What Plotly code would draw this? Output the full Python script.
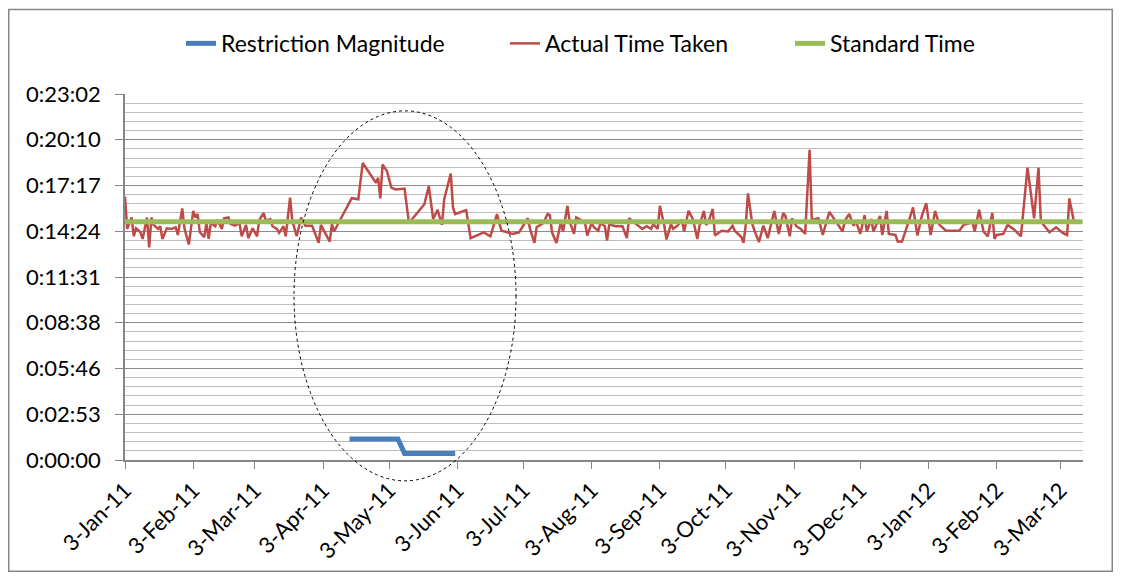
import plotly.graph_objects as go

# ---------------- data ----------------
restriction_dates = ["2011-04-15", "2011-05-07", "2011-05-10", "2011-06-02"]
restriction_secs = [79, 79, 25, 25]

standard_dates = ["2011-01-03", "2012-03-13"]
standard_secs = [900, 900]

actual_dates = [
    "2011-01-03", "2011-01-04", "2011-01-06", "2011-01-07", "2011-01-08", "2011-01-10", "2011-01-11", "2011-01-13",
    "2011-01-14", "2011-01-15", "2011-01-16", "2011-01-18", "2011-01-19", "2011-01-20", "2011-01-22", "2011-01-24",
    "2011-01-26", "2011-01-27", "2011-01-29", "2011-01-30",
    "2011-02-01", "2011-02-03", "2011-02-04", "2011-02-05", "2011-02-06", "2011-02-08", "2011-02-09", "2011-02-10",
    "2011-02-11", "2011-02-13", "2011-02-14", "2011-02-16", "2011-02-17", "2011-02-19", "2011-02-20", "2011-02-22",
    "2011-02-24", "2011-02-25", "2011-02-27", "2011-02-28",
    "2011-03-02", "2011-03-04", "2011-03-05", "2011-03-07", "2011-03-08", "2011-03-10", "2011-03-11", "2011-03-13",
    "2011-03-14", "2011-03-16", "2011-03-17", "2011-03-19", "2011-03-20", "2011-03-22", "2011-03-24", "2011-03-26",
    "2011-03-29",
    "2011-04-01", "2011-04-02", "2011-04-06", "2011-04-07", "2011-04-08", "2011-04-10", "2011-04-16", "2011-04-19",
    "2011-04-21", "2011-04-27", "2011-04-28", "2011-04-29", "2011-04-30",
    "2011-05-02", "2011-05-04", "2011-05-06", "2011-05-10", "2011-05-12", "2011-05-19", "2011-05-21", "2011-05-23",
    "2011-05-25", "2011-05-27", "2011-05-28", "2011-05-31",
    "2011-06-01", "2011-06-02", "2011-06-07", "2011-06-09", "2011-06-15", "2011-06-18", "2011-06-21", "2011-06-23",
    "2011-06-25", "2011-06-28",
    "2011-07-01", "2011-07-03", "2011-07-05", "2011-07-06", "2011-07-08", "2011-07-09", "2011-07-11", "2011-07-12",
    "2011-07-14", "2011-07-15", "2011-07-16", "2011-07-18", "2011-07-20", "2011-07-21", "2011-07-23", "2011-07-24",
    "2011-07-26", "2011-07-27", "2011-07-29", "2011-07-31",
    "2011-08-01", "2011-08-03", "2011-08-04", "2011-08-06", "2011-08-07", "2011-08-09", "2011-08-10", "2011-08-11",
    "2011-08-13", "2011-08-14", "2011-08-17", "2011-08-19", "2011-08-20", "2011-08-22", "2011-08-24", "2011-08-26",
    "2011-08-28", "2011-08-30", "2011-08-31",
    "2011-09-02", "2011-09-03", "2011-09-05", "2011-09-06", "2011-09-08", "2011-09-09", "2011-09-11", "2011-09-13",
    "2011-09-14", "2011-09-16", "2011-09-18", "2011-09-20", "2011-09-21", "2011-09-23", "2011-09-24", "2011-09-25",
    "2011-09-27", "2011-09-28",
    "2011-10-01", "2011-10-04", "2011-10-06", "2011-10-07", "2011-10-10", "2011-10-11", "2011-10-12", "2011-10-13",
    "2011-10-15", "2011-10-16", "2011-10-18", "2011-10-20", "2011-10-22", "2011-10-23", "2011-10-25", "2011-10-27",
    "2011-10-29", "2011-10-30",
    "2011-11-01", "2011-11-02", "2011-11-04", "2011-11-06", "2011-11-08", "2011-11-10", "2011-11-11", "2011-11-14",
    "2011-11-16", "2011-11-19", "2011-11-22", "2011-11-25", "2011-11-26", "2011-11-28", "2011-11-30",
    "2011-12-01", "2011-12-03", "2011-12-05", "2011-12-06", "2011-12-08", "2011-12-09", "2011-12-12", "2011-12-13",
    "2011-12-15", "2011-12-16", "2011-12-19", "2011-12-20", "2011-12-22", "2011-12-25", "2011-12-27", "2011-12-29",
    "2011-12-31",
    "2012-01-02", "2012-01-04", "2012-01-06", "2012-01-08", "2012-01-11", "2012-01-14", "2012-01-17", "2012-01-19",
    "2012-01-23", "2012-01-24", "2012-01-26", "2012-01-28", "2012-01-30",
    "2012-02-01", "2012-02-02", "2012-02-03", "2012-02-06", "2012-02-08", "2012-02-11", "2012-02-14", "2012-02-17",
    "2012-02-20", "2012-02-22", "2012-02-23", "2012-02-24", "2012-02-27",
    "2012-03-01", "2012-03-04", "2012-03-06", "2012-03-07", "2012-03-09",
]

actual_secs = [
    995, 873, 916, 845, 875, 860, 835, 916, 803, 916, 888, 873, 883, 835, 875, 873, 879, 850, 950, 875,
    814, 941, 916, 929, 860, 842, 895, 835, 895, 883, 907, 873, 913, 916, 891, 885, 895, 845, 888, 838,
    875, 845, 907, 933, 904, 910, 883, 873, 858, 883, 845, 991, 904, 845, 916, 885, 885,
    820, 888, 825, 891, 863, 895, 989, 985, 1122, 1047, 1066, 988, 1116,
    1091, 1029, 1022, 1025, 895, 966, 1035, 910, 945, 888, 985, 1082,
    954, 929, 944, 838, 860, 845, 929, 866, 862, 854,
    860, 885, 913, 873, 820, 879, 888, 895, 929, 925, 860, 820, 898, 863, 960, 900, 854, 916, 907, 895,
    848, 895, 879, 866, 895, 883, 829, 891, 885, 883, 883, 838, 913, 900, 885, 873, 883, 873, 891,
    873, 960, 885, 833, 891, 873, 885, 907, 863, 941, 910, 835, 885, 941, 888, 898, 948, 848,
    866, 863, 885, 866, 842, 820, 888, 1007, 891, 866, 823, 885, 838, 873, 941, 854, 933, 922,
    845, 913, 883, 873, 854, 1172, 907, 913, 850, 937, 898, 863, 904, 929, 885,
    904, 854, 925, 863, 910, 863, 922, 850, 941, 854, 850, 825, 825, 900, 954, 848, 922,
    970, 850, 941, 888, 866, 866, 866, 888, 898, 863, 945, 863, 845,
    933, 835, 850, 854, 888, 870, 845, 1104, 913, 1104, 910, 891, 860,
    879, 858, 850, 988, 904,
]

y_tick_secs = [0, 172.8, 345.6, 518.4, 691.2, 864.0, 1036.8, 1209.6, 1382.4]
y_tick_labels = ["0:00:00", "0:02:53", "0:05:46", "0:08:38", "0:11:31",
                 "0:14:24", "0:17:17", "0:20:10", "0:23:02"]

x_tick_dates = ["2011-01-03", "2011-02-03", "2011-03-03", "2011-04-03", "2011-05-03",
                "2011-06-03", "2011-07-03", "2011-08-03", "2011-09-03", "2011-10-03",
                "2011-11-03", "2011-12-03", "2012-01-03", "2012-02-03", "2012-03-03"]
x_tick_labels = ["3-Jan-11", "3-Feb-11", "3-Mar-11", "3-Apr-11", "3-May-11", "3-Jun-11",
                 "3-Jul-11", "3-Aug-11", "3-Sep-11", "3-Oct-11", "3-Nov-11", "3-Dec-11",
                 "3-Jan-12", "3-Feb-12", "3-Mar-12"]

# ---------------- layout geometry (page pixels) ----------------
OFF = 8                       # default page body margin
W, H = 1121 - 2 * OFF, 584 - 2 * OFF
PLOT_L, PLOT_R, PLOT_T, PLOT_B = 125, 1083, 94, 463   # plot area on the page
ML = PLOT_L - OFF
MR = OFF + W - PLOT_R
MT = PLOT_T - OFF
MB = OFF + H - PLOT_B
PW, PH = W - ML - MR, H - MT - MB


def px(x):
    return (x - PLOT_L) / PW


def py(y):
    return (PLOT_B - y) / PH


FONT = "Lato"
LEG_Y = py(43)


def legend_at(text_left):
    return dict(orientation="h", x=px(text_left - 41), xanchor="left", y=LEG_Y,
                yanchor="middle", font=dict(size=23), bgcolor="rgba(0,0,0,0)")


fig = go.Figure()
fig.add_trace(go.Scatter(
    x=restriction_dates, y=restriction_secs, mode="lines", name="Restriction Magnitude",
    line=dict(color="#4a7ebb", width=5), legend="legend"))
fig.add_trace(go.Scatter(
    x=actual_dates, y=actual_secs, mode="lines", name="Actual Time Taken",
    line=dict(color="#be4b48", width=2.5), legend="legend2"))
fig.add_trace(go.Scatter(
    x=standard_dates, y=standard_secs, mode="lines", name="Standard Time",
    line=dict(color="#9bbb59", width=5), legend="legend3"))

fig.update_layout(
    width=W, height=H,
    margin=dict(l=ML, r=MR, t=MT, b=MB, pad=0),
    paper_bgcolor="white", plot_bgcolor="white",
    font=dict(family=FONT, size=22, color="#000000"),
    showlegend=True,
    legend=legend_at(222),
    legend2=legend_at(546),
    legend3=legend_at(831),
    xaxis=dict(
        type="date", range=["2011-01-03", "2012-03-13 05:00"],
        tickmode="array", tickvals=x_tick_dates, ticktext=x_tick_labels,
        tickangle=-45, ticks="outside", ticklen=7, tickcolor="#868686", tickwidth=1,
        showline=True, linecolor="#868686", linewidth=1.5,
        showgrid=False, zeroline=False, tickfont=dict(size=22),
    ),
    yaxis=dict(
        range=[0, 1382.4],
        tickmode="array", tickvals=y_tick_secs, ticktext=y_tick_labels,
        ticks="outside", ticklen=8, tickcolor="#868686", tickwidth=1,
        showline=True, linecolor="#868686", linewidth=1.5,
        showgrid=True, gridcolor="#8c8c8c", gridwidth=1,
        zeroline=False, ticklabelstandoff=10, tickfont=dict(size=22),
        minor=dict(tickmode="linear", tick0=0, dtick=34.56, showgrid=True,
                   gridcolor="#bdbdbd", gridwidth=1.3, ticks=""),
    ),
    shapes=[
        dict(type="circle", xref="paper", yref="paper",
             x0=px(294), x1=px(516), y0=py(484), y1=py(111),
             line=dict(color="black", width=1, dash="dot")),
        dict(type="rect", xref="paper", yref="paper",
             x0=px(OFF + 0.75), x1=px(OFF + W - 0.75), y0=py(OFF + H - 0.75), y1=py(OFF + 0.75),
             line=dict(color="#868686", width=1.5)),
    ],
)

fig.write_html("out.html")
